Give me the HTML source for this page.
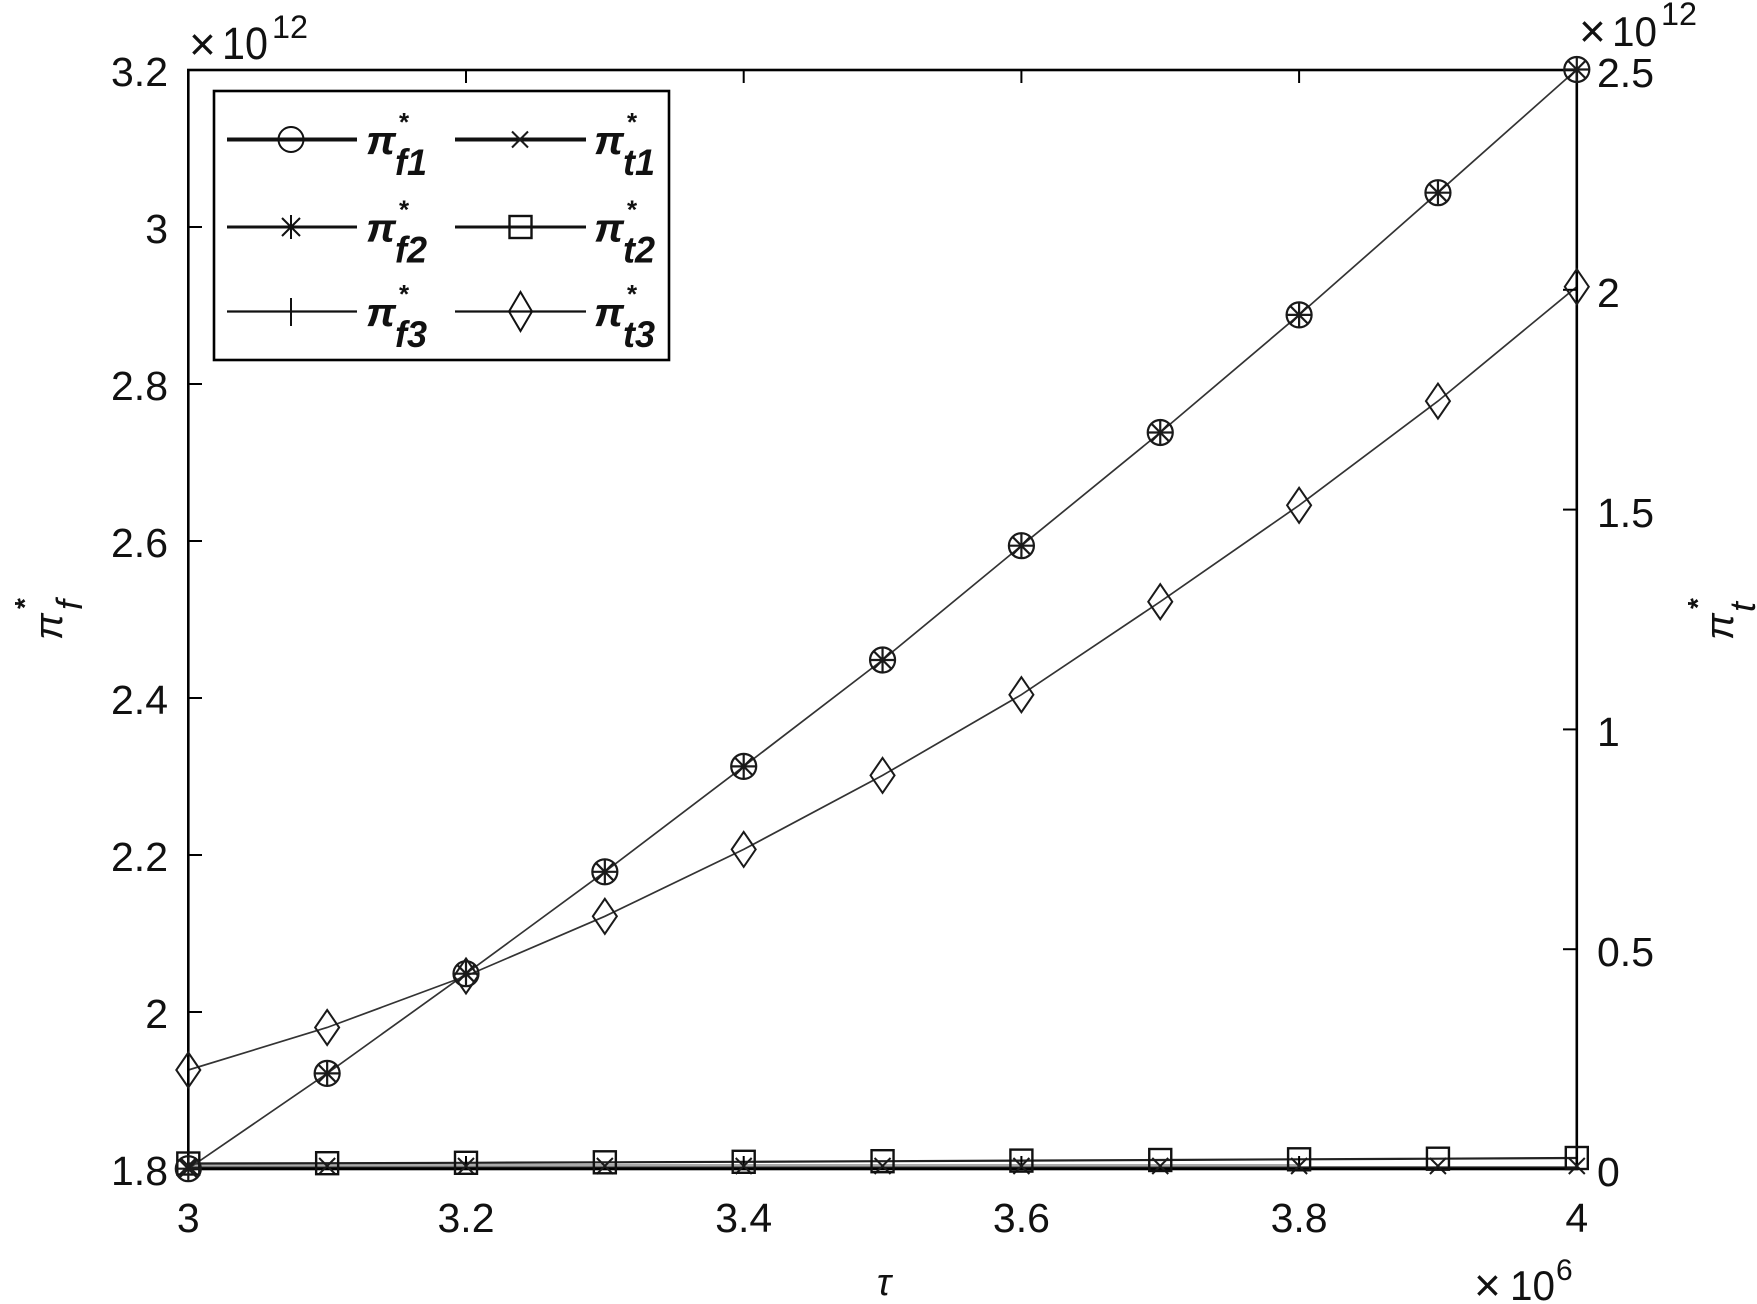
<!DOCTYPE html>
<html>
<head>
<meta charset="utf-8">
<style>
  html,body{margin:0;padding:0;background:#fff;}
  svg{display:block;}
  text{font-family:"Liberation Sans", Arial, sans-serif;fill:#111;}
</style>
</head>
<body>
<svg width="1757" height="1304" viewBox="0 0 1757 1304" xmlns="http://www.w3.org/2000/svg">
  <defs>
    <g id="cm" fill="none" stroke="#1a1a1a" stroke-width="2.2">
      <circle cx="0" cy="0" r="12.5"/>
      <line x1="-13" y1="0" x2="13" y2="0"/>
      <line x1="0" y1="-13" x2="0" y2="13"/>
      <line x1="-9" y1="-9" x2="9" y2="9"/>
      <line x1="-9" y1="9" x2="9" y2="-9"/>
    </g>
    <path id="dm" d="M0,-17.5 L12,0 L0,17.5 L-12,0 Z" fill="none" stroke="#1a1a1a" stroke-width="2"/>
    <rect id="sq" x="-11" y="-11" width="22" height="22" fill="none" stroke="#111" stroke-width="2.4"/>
    <g id="xm" stroke="#1a1a1a" stroke-width="2">
      <line x1="-8" y1="-8" x2="8" y2="8"/>
      <line x1="-8" y1="8" x2="8" y2="-8"/>
    </g>
  </defs>

  <!-- bottom series lines -->
  <polyline fill="none" stroke="#aaa" stroke-width="2" points="188.3,1165 1300,1165"/>
  <polyline fill="none" stroke="#222" stroke-width="2.2" points="188.3,1167.5 1576.8,1167.5"/>
  <polyline fill="none" stroke="#222" stroke-width="2.2" points="188.3,1163.5 327.15,1163.2 466,1162.8 604.85,1162.3 743.7,1161.8 882.55,1161.2 1021.4,1160.6 1160.25,1160 1299.1,1159.3 1437.95,1158.7 1576.8,1158"/>

  <!-- main series (f1,f2,f3) -->
  <polyline fill="none" stroke="#333" stroke-width="1.7" points="188.3,1168.7 327.15,1073.4 466,973.7 604.85,871.8 743.7,766.4 882.55,660 1021.4,545.7 1160.25,432.5 1299.1,314.9 1437.95,192.7 1576.8,69.5"/>
  <!-- diamond series (t3) -->
  <polyline fill="none" stroke="#333" stroke-width="1.7" points="188.3,1070 327.15,1027.5 466,976 604.85,916.3 743.7,849.4 882.55,775.4 1021.4,694.7 1160.25,601.7 1299.1,505.3 1437.95,401.1 1576.8,286.7"/>

  <!-- axes box -->
  <rect x="188.3" y="70" width="1388.5" height="1099" fill="none" stroke="#000" stroke-width="2.6"/>

  <!-- ticks -->
  <g stroke="#000" stroke-width="2">
    <line x1="188" y1="1012" x2="202" y2="1012"/>
    <line x1="188" y1="855" x2="202" y2="855"/>
    <line x1="188" y1="698" x2="202" y2="698"/>
    <line x1="188" y1="541" x2="202" y2="541"/>
    <line x1="188" y1="384" x2="202" y2="384"/>
    <line x1="188" y1="227" x2="202" y2="227"/>
    <line x1="1563" y1="949.2" x2="1577" y2="949.2"/>
    <line x1="1563" y1="729.4" x2="1577" y2="729.4"/>
    <line x1="1563" y1="509.6" x2="1577" y2="509.6"/>
    <line x1="1563" y1="289.8" x2="1577" y2="289.8"/>
    <line x1="466" y1="70" x2="466" y2="83"/>
    <line x1="743.7" y1="70" x2="743.7" y2="83"/>
    <line x1="1021.4" y1="70" x2="1021.4" y2="83"/>
    <line x1="1299.1" y1="70" x2="1299.1" y2="83"/>
    <line x1="466" y1="1169" x2="466" y2="1156"/>
    <line x1="743.7" y1="1169" x2="743.7" y2="1156"/>
    <line x1="1021.4" y1="1169" x2="1021.4" y2="1156"/>
    <line x1="1299.1" y1="1169" x2="1299.1" y2="1156"/>
  </g>

  <!-- markers: x (t1) -->
  <use href="#xm" x="188.3" y="1166"/>
  <use href="#xm" x="327.15" y="1166"/>
  <use href="#xm" x="466" y="1166"/>
  <use href="#xm" x="604.85" y="1166"/>
  <use href="#xm" x="743.7" y="1166"/>
  <use href="#xm" x="882.55" y="1166"/>
  <use href="#xm" x="1021.4" y="1166"/>
  <use href="#xm" x="1160.25" y="1166"/>
  <use href="#xm" x="1299.1" y="1166"/>
  <use href="#xm" x="1437.95" y="1166"/>
  <use href="#xm" x="1576.8" y="1166"/>
  <!-- squares (t2) -->
  <use href="#sq" x="188.3" y="1163.5"/>
  <use href="#sq" x="327.15" y="1163.2"/>
  <use href="#sq" x="466" y="1162.8"/>
  <use href="#sq" x="604.85" y="1162.3"/>
  <use href="#sq" x="743.7" y="1161.8"/>
  <use href="#sq" x="882.55" y="1161.2"/>
  <use href="#sq" x="1021.4" y="1160.6"/>
  <use href="#sq" x="1160.25" y="1160"/>
  <use href="#sq" x="1299.1" y="1159.3"/>
  <use href="#sq" x="1437.95" y="1158.7"/>
  <use href="#sq" x="1576.8" y="1158"/>
  <!-- diamonds (t3) -->
  <use href="#dm" x="188.3" y="1070"/>
  <use href="#dm" x="327.15" y="1027.5"/>
  <use href="#dm" x="466" y="976"/>
  <use href="#dm" x="604.85" y="916.3"/>
  <use href="#dm" x="743.7" y="849.4"/>
  <use href="#dm" x="882.55" y="775.4"/>
  <use href="#dm" x="1021.4" y="694.7"/>
  <use href="#dm" x="1160.25" y="601.7"/>
  <use href="#dm" x="1299.1" y="505.3"/>
  <use href="#dm" x="1437.95" y="401.1"/>
  <use href="#dm" x="1576.8" y="286.7"/>
  <!-- combined markers (f1,f2,f3) -->
  <use href="#cm" x="188.3" y="1168.7"/>
  <use href="#cm" x="327.15" y="1073.4"/>
  <use href="#cm" x="466" y="973.7"/>
  <use href="#cm" x="604.85" y="871.8"/>
  <use href="#cm" x="743.7" y="766.4"/>
  <use href="#cm" x="882.55" y="660"/>
  <use href="#cm" x="1021.4" y="545.7"/>
  <use href="#cm" x="1160.25" y="432.5"/>
  <use href="#cm" x="1299.1" y="314.9"/>
  <use href="#cm" x="1437.95" y="192.7"/>
  <use href="#cm" x="1576.8" y="69.5"/>

  <!-- left tick labels -->
  <g font-size="41" text-anchor="end">
    <text x="168" y="1185">1.8</text>
    <text x="168" y="1028">2</text>
    <text x="168" y="871">2.2</text>
    <text x="168" y="714">2.4</text>
    <text x="168" y="557">2.6</text>
    <text x="168" y="400">2.8</text>
    <text x="168" y="243">3</text>
    <text x="168" y="86">3.2</text>
  </g>
  <!-- right tick labels -->
  <g font-size="41" text-anchor="start">
    <text x="1597" y="1186">0</text>
    <text x="1597" y="966">0.5</text>
    <text x="1597" y="746">1</text>
    <text x="1597" y="527">1.5</text>
    <text x="1597" y="307">2</text>
    <text x="1597" y="87">2.5</text>
  </g>
  <!-- x tick labels -->
  <g font-size="41" text-anchor="middle">
    <text x="188.3" y="1232">3</text>
    <text x="466" y="1232">3.2</text>
    <text x="743.7" y="1232">3.4</text>
    <text x="1021.4" y="1232">3.6</text>
    <text x="1299.1" y="1232">3.8</text>
    <text x="1576.8" y="1232">4</text>
  </g>

  <!-- exponent labels -->
  <text x="189" y="60" font-size="46" fill="#333">×</text>
  <text x="222" y="59" font-size="45" textLength="46" lengthAdjust="spacingAndGlyphs">10</text>
  <text x="272" y="38" font-size="32" textLength="36" lengthAdjust="spacingAndGlyphs">12</text>

  <text x="1579" y="47" font-size="46" fill="#333">×</text>
  <text x="1612" y="46" font-size="42" textLength="45" lengthAdjust="spacingAndGlyphs">10</text>
  <text x="1661" y="25" font-size="32" textLength="36" lengthAdjust="spacingAndGlyphs">12</text>

  <text x="1474" y="1301" font-size="46" fill="#333">×</text>
  <text x="1510" y="1300" font-size="42" textLength="45" lengthAdjust="spacingAndGlyphs">10</text>
  <text x="1556" y="1280" font-size="30">6</text>

  <!-- x axis label -->
  <text x="884" y="1295" font-size="38" font-style="italic" text-anchor="middle">τ</text>

  <!-- left y label -->
  <g transform="translate(0,640) rotate(-90)">
    <text x="0" y="62" font-size="40" font-style="italic">π</text>
    <text x="30" y="82" font-size="36" font-style="italic">f</text>
    <text x="31" y="34" font-size="28" font-weight="bold">*</text>
  </g>
  <!-- right y label -->
  <g transform="translate(1671,640) rotate(-90)">
    <text x="0" y="62" font-size="40" font-style="italic">π</text>
    <text x="28" y="84" font-size="36" font-style="italic">t</text>
    <text x="31" y="36" font-size="28" font-weight="bold">*</text>
  </g>

  <!-- legend -->
  <rect x="214" y="91" width="455" height="269" fill="#fff" stroke="#000" stroke-width="2.6"/>
  <!-- row 1 -->
  <line x1="227" y1="139.5" x2="357" y2="139.5" stroke="#111" stroke-width="4"/>
  <circle cx="291" cy="139.5" r="12.5" fill="none" stroke="#111" stroke-width="2"/>
  <line x1="455" y1="139.5" x2="586" y2="139.5" stroke="#111" stroke-width="4"/>
  <use href="#xm" x="520" y="139.5"/>
  <!-- row 2 -->
  <line x1="227" y1="227" x2="357" y2="227" stroke="#111" stroke-width="3"/>
  <g stroke="#111" stroke-width="2">
    <line x1="291" y1="215" x2="291" y2="239"/>
    <line x1="282" y1="218" x2="300" y2="236"/>
    <line x1="282" y1="236" x2="300" y2="218"/>
  </g>
  <line x1="455" y1="227" x2="586" y2="227" stroke="#111" stroke-width="3"/>
  <rect x="509.5" y="216" width="22" height="22" fill="#fff" stroke="#111" stroke-width="2.4"/>
  <line x1="509.5" y1="227" x2="531.5" y2="227" stroke="#111" stroke-width="3"/>
  <!-- row 3 -->
  <line x1="227" y1="311.5" x2="357" y2="311.5" stroke="#111" stroke-width="2.2"/>
  <line x1="291" y1="298" x2="291" y2="326" stroke="#111" stroke-width="2"/>
  <line x1="455" y1="311.5" x2="586" y2="311.5" stroke="#111" stroke-width="2.2"/>
  <path d="M520.5,292 L532,311.5 L520.5,331 L509,311.5 Z" fill="none" stroke="#111" stroke-width="2"/>

  <!-- legend texts -->
  <g>
    <text x="366" y="154" font-size="40" font-style="italic" font-weight="bold" textLength="30" lengthAdjust="spacingAndGlyphs">π</text>
    <text x="399" y="131" font-size="26" font-weight="bold">*</text>
    <text x="395" y="175" font-size="37" font-weight="bold" font-style="italic" textLength="32" lengthAdjust="spacingAndGlyphs">f1</text>

    <text x="366" y="241.5" font-size="40" font-style="italic" font-weight="bold" textLength="30" lengthAdjust="spacingAndGlyphs">π</text>
    <text x="399" y="218.5" font-size="26" font-weight="bold">*</text>
    <text x="395" y="262.5" font-size="37" font-weight="bold" font-style="italic" textLength="32" lengthAdjust="spacingAndGlyphs">f2</text>

    <text x="366" y="326" font-size="40" font-style="italic" font-weight="bold" textLength="30" lengthAdjust="spacingAndGlyphs">π</text>
    <text x="399" y="303" font-size="26" font-weight="bold">*</text>
    <text x="395" y="347" font-size="37" font-weight="bold" font-style="italic" textLength="32" lengthAdjust="spacingAndGlyphs">f3</text>

    <text x="594" y="154" font-size="40" font-style="italic" font-weight="bold" textLength="30" lengthAdjust="spacingAndGlyphs">π</text>
    <text x="627" y="131" font-size="26" font-weight="bold">*</text>
    <text x="623" y="175" font-size="37" font-weight="bold" font-style="italic" textLength="32" lengthAdjust="spacingAndGlyphs">t1</text>

    <text x="594" y="241.5" font-size="40" font-style="italic" font-weight="bold" textLength="30" lengthAdjust="spacingAndGlyphs">π</text>
    <text x="627" y="218.5" font-size="26" font-weight="bold">*</text>
    <text x="623" y="262.5" font-size="37" font-weight="bold" font-style="italic" textLength="32" lengthAdjust="spacingAndGlyphs">t2</text>

    <text x="594" y="326" font-size="40" font-style="italic" font-weight="bold" textLength="30" lengthAdjust="spacingAndGlyphs">π</text>
    <text x="627" y="303" font-size="26" font-weight="bold">*</text>
    <text x="623" y="347" font-size="37" font-weight="bold" font-style="italic" textLength="32" lengthAdjust="spacingAndGlyphs">t3</text>
  </g>
</svg>
</body>
</html>
